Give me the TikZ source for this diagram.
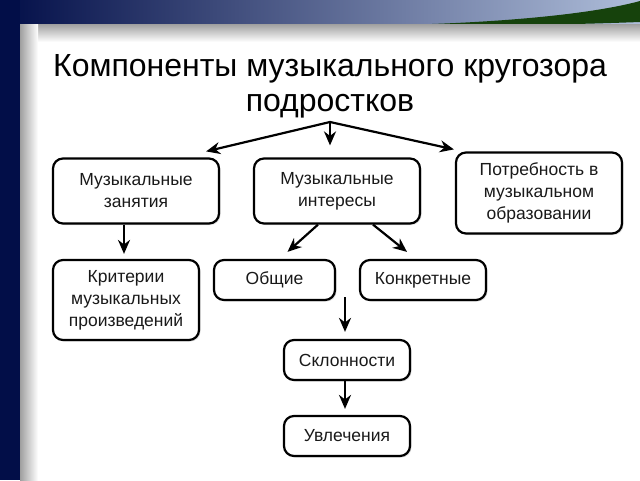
\documentclass[tikz,border=0pt]{standalone}
\usepackage{fontspec}
\setmainfont{Liberation Sans}
\usetikzlibrary{arrows.meta,shadows}
\definecolor{navy}{RGB}{2,14,72}
\definecolor{steel}{RGB}{175,190,218}
\definecolor{swoosh}{RGB}{22,66,12}
\definecolor{txt}{RGB}{25,25,25}
\begin{document}
\begin{tikzpicture}[x=1pt,y=-1pt]
\tikzset{
  boxnode/.style={draw=black, line width=2.2pt, rounded corners=10pt, fill=white,
    align=center, inner sep=0pt, text=txt,
    font=\fontsize{17.5}{22}\selectfont,
    drop shadow={shadow xshift=1.5pt, shadow yshift=-1.5pt, opacity=0.25}},
  arr/.style={line width=2.2pt, -{Stealth[length=14pt,width=12pt]}}
}
\useasboundingbox (0,0) rectangle (640,480);
% background
\fill[white] (0,0) rectangle (640,480);
\shade[left color=navy, right color=steel] (0,0) rectangle (640,25);
\fill[swoosh] (400,25) .. controls (520,22) and (600,12) .. (640,1) -- (640,22) .. controls (560,25) and (480,26) .. (400,26) -- cycle;
\fill[navy] (0,0) rectangle (20,480);
\shade[top color=gray!75, bottom color=white] (20,24) rectangle (640,42);
\shade[left color=gray!75, right color=white] (20,24) rectangle (38,480);
% title
\node[align=center, text=black, font=\fontsize{32}{35}\selectfont] (title) at (330,86)
  {Компоненты музыкального кругозора\\подростков};
% boxes
\node[boxnode, minimum width=166pt, minimum height=65pt] (b1) at (136,191) {Музыкальные\\занятия};
\node[boxnode, minimum width=166pt, minimum height=65pt] (b2) at (337,191) {Музыкальные\\интересы};
\node[boxnode, minimum width=166pt, minimum height=81pt] (b3) at (539,193) {Потребность в\\музыкальном\\образовании};
\node[boxnode, minimum width=146pt, minimum height=80pt] (b4) at (126,300) {Критерии\\музыкальных\\произведений};
\node[boxnode, minimum width=121pt, minimum height=40pt] (b5) at (274.5,280) {Общие};
\node[boxnode, minimum width=126pt, minimum height=40pt] (b6) at (423,280) {Конкретные};
\node[boxnode, minimum width=126pt, minimum height=40pt] (b7) at (347,360) {Склонности};
\node[boxnode, minimum width=126pt, minimum height=40pt] (b8) at (347,436) {Увлечения};
% connectors
\coordinate (top) at (330,122);
\coordinate (mid) at (345,297);
\draw[arr] (top) -- ([xshift=-14pt,yshift=6pt]b1.north east);
\draw[arr] (top) -- ([xshift=-1pt,yshift=2pt]b3.north west);
\draw[arr, shorten >=12pt] (top) -- (top |- b2.north);
\draw[arr, shorten >=5pt] ([xshift=-2pt]b4.north |- b1.south) -- ([xshift=-2pt]b4.north);
\draw[arr] ([xshift=-19pt]b2.south) -- ([xshift=13pt,yshift=7pt]b5.north);
\draw[arr] ([xshift=36pt]b2.south) -- ([xshift=-16pt,yshift=7pt]b6.north);
\draw[arr, shorten >=7pt] (mid) -- (mid |- b7.north);
\draw[arr, shorten >=6pt] ([xshift=-2pt]b7.south) -- ([xshift=-2pt]b8.north);
\end{tikzpicture}
\end{document}
